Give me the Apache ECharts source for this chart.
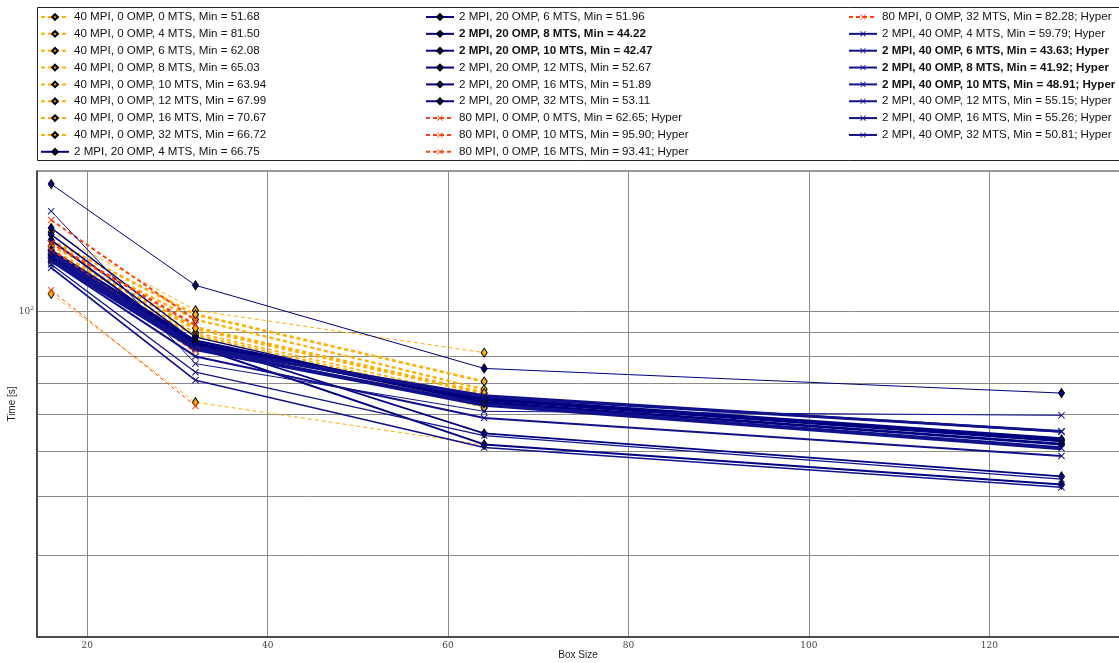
<!DOCTYPE html>
<html><head><meta charset="utf-8">
<script src="https://cdn.jsdelivr.net/npm/echarts@6/dist/echarts.min.js"></script>
<style>html,body{margin:0;padding:0;background:#fff}#c{width:1119px;height:663px}</style>
</head><body><div id="c"></div>
<script>
// ---- data ----
const boxSizes = [16, 32, 64, 128];
const xTicks = [20, 40, 60, 80, 100, 120];
const yGrid = [30, 40, 50, 60, 70, 80, 90, 100];
const xTitle = 'Box Size';
const yTitle = 'Time [s]';

const mpi40Labels = ['40 MPI, 0 OMP, 0 MTS, Min = 51.68','40 MPI, 0 OMP, 4 MTS, Min = 81.50','40 MPI, 0 OMP, 6 MTS, Min = 62.08','40 MPI, 0 OMP, 8 MTS, Min = 65.03','40 MPI, 0 OMP, 10 MTS, Min = 63.94','40 MPI, 0 OMP, 12 MTS, Min = 67.99','40 MPI, 0 OMP, 16 MTS, Min = 70.67','40 MPI, 0 OMP, 32 MTS, Min = 66.72'];
const mpi40Mts = [0, 4, 6, 8, 10, 12, 16, 32];
const mpi40Times = [[109, 63.8, 51.68],[148, 100.5, 81.5],[128, 88.5, 62.08],[132, 90, 65.03],[130, 89, 63.94],[138, 96, 67.99],[142, 98.4, 70.67],[135, 92, 66.72]];

const omp20Labels = ['2 MPI, 20 OMP, 4 MTS, Min = 66.75','2 MPI, 20 OMP, 6 MTS, Min = 51.96','2 MPI, 20 OMP, 8 MTS, Min = 44.22','2 MPI, 20 OMP, 10 MTS, Min = 42.47','2 MPI, 20 OMP, 12 MTS, Min = 52.67','2 MPI, 20 OMP, 16 MTS, Min = 51.89','2 MPI, 20 OMP, 32 MTS, Min = 53.11'];
const omp20Mts = [4, 6, 8, 10, 12, 16, 32];
const omp20Bold = [false, false, true, true, false, false, false];
const omp20Times = [[187.5, 113.7, 75.4, 66.75],[151, 88, 63.5, 51.96],[146, 86, 54.7, 44.22],[142, 84, 51.8, 42.47],[135, 86.5, 64.5, 52.67],[133, 85.5, 63.8, 51.89],[131, 85, 64.8, 53.11]];

const mpi80Labels = ['80 MPI, 0 OMP, 0 MTS, Min = 62.65; Hyper','80 MPI, 0 OMP, 10 MTS, Min = 95.90; Hyper','80 MPI, 0 OMP, 16 MTS, Min = 93.41; Hyper','80 MPI, 0 OMP, 32 MTS, Min = 82.28; Hyper'];
const mpi80Mts = [0, 10, 16, 32];
const mpi80Times = [[111, 62.65],[157, 95.9],[140, 93.41],[135, 82.28]];

const omp40Labels = ['2 MPI, 40 OMP, 4 MTS, Min = 59.79; Hyper','2 MPI, 40 OMP, 6 MTS, Min = 43.63; Hyper','2 MPI, 40 OMP, 8 MTS, Min = 41.92; Hyper','2 MPI, 40 OMP, 10 MTS, Min = 48.91; Hyper','2 MPI, 40 OMP, 12 MTS, Min = 55.15; Hyper','2 MPI, 40 OMP, 16 MTS, Min = 55.26; Hyper','2 MPI, 40 OMP, 32 MTS, Min = 50.81; Hyper'];
const omp40Mts = [4, 6, 8, 10, 12, 16, 32];
const omp40Bold = [false, true, true, true, false, false, false];
const omp40Times = [[164, 77.2, 61, 59.79],[126, 74, 54.1, 43.63],[124, 71.1, 51.0, 41.92],[128, 80, 59, 48.91],[134, 84, 66, 55.15],[132, 83.5, 65.5, 55.26],[129, 83, 63, 50.81]];

// ---- styling ----
const ORANGE = '#ffb000', RED = '#ff4010', NAVY = '#000080', NAVY2 = '#11118c';
const widthFor = {0: 1, 4: 1, 6: 1.3, 8: 1.6, 10: 2, 12: 2.3, 16: 2.7, 32: 4};
const XSYM = 'path://M0,1L1,0L5,4L9,0L10,1L6,5L10,9L9,10L5,6L1,10L0,9L4,5Z';

function mk(name, times, mts, color, dashed, symbol, fill, border) {
  return {
    name, type: 'line',
    data: times.map((t, i) => [boxSizes[i], t]),
    symbol: symbol,
    symbolSize: symbol === 'diamond' ? [6, 9] : 7,
    lineStyle: {color, width: widthFor[mts], type: dashed ? [4, 3] : 'solid'},
    itemStyle: {color: fill, borderColor: border, borderWidth: symbol === 'diamond' ? 1 : 0},
    emphasis: {disabled: true}, animation: false, z: 2
  };
}
const series = [];
mpi40Labels.forEach((n, i) => series.push(mk(n, mpi40Times[i], mpi40Mts[i], ORANGE, true, 'diamond', ORANGE, '#000')));
omp20Labels.forEach((n, i) => series.push(mk(n, omp20Times[i], omp20Mts[i], NAVY, false, 'diamond', NAVY, '#000')));
mpi80Labels.forEach((n, i) => series.push(mk(n, mpi80Times[i], mpi80Mts[i], RED, true, XSYM, RED, RED)));
omp40Labels.forEach((n, i) => series.push(mk(n, omp40Times[i], omp40Mts[i], NAVY2, false, XSYM, NAVY2, NAVY2)));

const allNames = [...mpi40Labels.map(n => ({name: n})),
  ...omp20Labels.map((n, i) => ({name: n, textStyle: omp20Bold[i] ? {fontWeight: 'bold'} : {}})),
  ...mpi80Labels.map(n => ({name: n})),
  ...omp40Labels.map((n, i) => ({name: n, textStyle: omp40Bold[i] ? {fontWeight: 'bold'} : {}}))];

function legendCol(left, items) {
  return {
    orient: 'vertical', left, top: 10, itemWidth: 28, itemHeight: 7, itemGap: 2.85,
    padding: 0, selectedMode: false, data: items,
    textStyle: {fontFamily: 'Liberation Sans, Arial, sans-serif', fontSize: 11.6, color: '#111', lineHeight: 14}
  };
}

const sansFont = 'Liberation Sans, Arial, sans-serif';
const serifFont = 'DejaVu Serif, Liberation Serif, serif';
const chart = echarts.init(document.getElementById('c'), null, {renderer: 'canvas'});
chart.setOption({
  animation: false,
  backgroundColor: '#fff',
  grid: {left: 37, top: 171, right: -6, bottom: 26, show: true, borderColor: '#333', borderWidth: 1, outerBoundsMode: 'none', containLabel: false},
  legend: [legendCol(40, allNames.slice(0, 9)), legendCol(425, allNames.slice(9, 18)), legendCol(848, allNames.slice(18))],
  graphic: [
    {type: 'rect', shape: {x: 37.5, y: 7.5, width: 1090, height: 153}, style: {fill: 'none', stroke: '#222', lineWidth: 1}, silent: true},
    {type: 'text', x: 578, y: 655, style: {text: xTitle, font: '10px ' + sansFont, fill: '#222', align: 'center', verticalAlign: 'middle'}, silent: true},
    {type: 'text', x: 12, y: 404, rotation: Math.PI / 2, style: {text: yTitle, font: '10px ' + sansFont, fill: '#222', align: 'center', verticalAlign: 'middle'}, silent: true}
  ],
  xAxis: {
    type: 'value', min: 14.43, max: 135.04,
    axisLine: {show: true, onZero: false, lineStyle: {color: '#333', width: 1.5}},
    axisTick: {show: false, customValues: xTicks},
    axisLabel: {customValues: xTicks, fontFamily: serifFont, fontSize: 9, color: '#444', margin: 4},
    splitLine: {show: true, lineStyle: {color: '#8a8a8a', width: 1}}
  },
  yAxis: {
    type: 'log', logBase: 10, min: 20, max: 200,
    axisLine: {show: true, lineStyle: {color: '#333', width: 1.5}},
    axisTick: {show: false, customValues: yGrid},
    axisLabel: {customValues: [100], margin: 3, formatter: () => '{b|10}{s|2}',
      rich: {b: {fontFamily: serifFont, fontSize: 9, color: '#444'}, s: {fontFamily: serifFont, fontSize: 6, color: '#444', verticalAlign: 'top', padding: [0, 0, 6, 0]}}},
    splitLine: {show: true, lineStyle: {color: '#8a8a8a', width: 1}}
  },
  series
});
</script></body></html>
